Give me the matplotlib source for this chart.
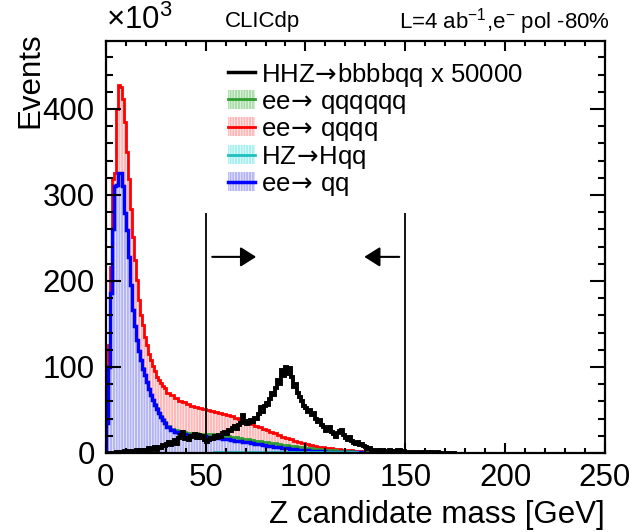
import numpy as np
import matplotlib.pyplot as plt
from matplotlib.patches import Patch
from matplotlib.lines import Line2D
from matplotlib.ticker import MultipleLocator

plt.rcParams['font.family'] = ['Liberation Sans', 'DejaVu Sans']
plt.rcParams['mathtext.fontset'] = 'custom'
plt.rcParams['mathtext.rm'] = 'Liberation Sans'
plt.rcParams['mathtext.sf'] = 'DejaVu Sans'
plt.rcParams['hatch.linewidth'] = 0.45

# Bin edges: 1 GeV bins up to 30 GeV, 2 GeV bins up to 150 GeV
edges = np.concatenate([np.arange(0, 30, 1), np.arange(30, 151, 2)])

# Background components, events in units of 10^3 (stacked bottom -> top)
hz_hqq = [0]*10 + [0.1]*10 + [0.2]*10 + [
    0.3, 0.3, 0.35, 0.35, 0.4, 0.4, 0.45, 0.45, 0.5, 0.5,
    0.55, 0.55, 0.6, 0.6, 0.65, 0.65, 0.7, 0.7, 0.75, 0.75,
    0.8, 0.8, 0.85, 0.85, 0.9, 0.9, 0.95, 0.95, 1.0, 1.0,
    1.05, 1.05, 1.1, 1.1, 1.15, 1.15, 1.2, 1.2, 1.2, 1.2,
    1.2, 1.15, 1.1, 1.0, 0.9, 0.8, 0.7, 0.6, 0.5, 0.4,
    0.3, 0.25, 0.2, 0.15, 0.1, 0.08, 0.05, 0.03, 0.02, 0]

ee_qq = [
    35, 100, 186, 260, 310, 312, 326, 325, 310, 279,
    259, 228, 195, 166, 147, 131, 118, 108, 98, 90,
    82, 74, 67, 61, 56, 51, 46, 42, 38, 35,
    29.7, 26.7, 24.6, 23.1, 22.1, 21.1, 20.5, 20, 19.5, 19,
    18.4, 17.9, 17.4, 16.4, 15.8, 15.3, 14.3, 13.8, 13.2, 12.2,
    11.7, 10.7, 9.6, 9.1, 8.1, 7.6, 7.0, 6.5, 6.0, 5.0,
    4.4, 3.9, 3.4, 2.9, 2.3, 1.8, 1.4, 1.0, 0.8, 0.6,
    0.5, 0.45, 0.4, 0.35, 0.3, 0.25, 0.2, 0.2, 0.15, 0.1,
    0.1, 0.05, 0.05, 0.05, 0.05, 0.02, 0.02, 0.01, 0.01, 0]

ee_6q = [0]*10 + [
    0.1, 0.1, 0.15, 0.15, 0.2, 0.2, 0.25, 0.25, 0.3, 0.3,
    0.35, 0.4, 0.45, 0.5, 0.55, 0.6, 0.65, 0.7, 0.8, 0.9,
    1.0, 1.2, 1.4, 1.6, 1.8, 2.0, 2.2, 2.4, 2.6, 2.8,
    3.0, 3.1, 3.2, 3.3, 3.4, 3.5, 3.6, 3.7, 3.8, 3.9,
    4.0, 4.0, 4.0, 4.0, 4.0, 4.0, 3.9, 3.8, 3.7, 3.6,
    3.5, 3.4, 3.3, 3.2, 3.1, 3.0, 2.8, 2.6, 2.4, 2.2,
    2.0, 1.8, 1.6, 1.4, 1.2, 1.0, 0.9, 0.8, 0.7, 0.6,
    0.5, 0.4, 0.3, 0.25, 0.2, 0.15, 0.1, 0.05, 0.05, 0]

ee_4q = [
    11, 26, 30, 58, 16, 88, 102, 100, 102, 106,
    91, 90, 88, 85, 77, 70, 60, 52, 50, 45,
    43, 41, 41, 39, 38, 37, 38, 38, 39, 39,
    39, 38.8, 37.6, 35.9, 34.7, 33.5, 31.8, 30.1, 29.4, 28.7,
    28, 27.4, 26.8, 26.7, 25.1, 24.5, 24.4, 22.8, 21.2, 21.1,
    19.5, 18.5, 17.5, 16, 15, 14.5, 13.1, 11.7, 10.3, 9.4,
    8.5, 7.6, 6.7, 5.8, 4.9, 4.5, 4.1, 3.7, 2.6, 2.5,
    2.3, 2.1, 1.9, 1.75, 1.6, 1.45, 1.2, 1.2, 1.0, 1.0,
    0.9, 0.8, 0.65, 0.55, 0.45, 0.35, 0.25, 0.15, 0.1, 0.05]

# Signal HHZ -> bbbbqq (x 50000), 1 GeV bins from 0 GeV
hhz = [
    0, 0, 0, 0, 0.5, 1, 1, 1.5, 1, 2,
    1.5, 2, 1.5, 2.5, 2, 3, 2.5, 3, 2, 3.5,
    4, 6, 3, 5, 7, 4, 7, 6, 9, 8,
    11, 13, 9, 12, 15, 11, 17, 21, 24, 16,
    18, 15, 20, 19, 22, 17, 21, 18, 20, 15,
    13, 15, 18, 16, 20, 17, 21, 19, 23, 24,
    22, 27, 25, 29, 31, 28, 33, 35, 44, 37,
    34, 35, 38, 36, 41, 39, 45, 53, 48, 55,
    58, 56, 63, 70, 67, 75, 85, 80, 97, 90,
    100, 92, 99, 88, 77, 80, 70, 65, 60, 55,
    52, 48, 50, 44, 46, 40, 36, 38, 33, 30,
    25, 28, 30, 24, 22, 19, 23, 25, 27, 21,
    17, 15, 19, 14, 12, 11, 13, 9, 10, 8,
    7, 5, 6, 4, 4, 3, 3, 2.5, 3, 2,
    2.5, 2, 3, 2, 1.5, 2, 3.5, 4, 2, 2.5,
    1.5, 1.5, 1, 1.2, 0.8, 1, 1.5, 0.8, 1, 0.5,
    0.8, 0.6, 0.4, 0.8, 0.5, 0.3, 0.6, 0.3, 0.2, 0.4,
    0.2, 0.3, 0.2, 0.1, 0.2, 0.1]
hhz_edges = np.arange(len(hhz) + 1)

cut_low, cut_high = 50, 150
cut_top = 279
arrow_y = 228

# stacked levels
lvl_hz = np.array(hz_hqq)
lvl_qq = lvl_hz + np.array(ee_qq)
lvl_6q = lvl_qq + np.array(ee_6q)
lvl_4q = lvl_6q + np.array(ee_4q)

fig = plt.figure(figsize=(6.3, 5.32), dpi=100)
ax = fig.add_axes([0.168, 0.1485, 0.792, 0.7745])

HATCH = '||||||'
layers = [
    (lvl_4q, '#ffb8b8', '#ff0000', 2.0),
    (lvl_6q, '#a8dca8', '#2e9e2e', 2.0),
    (lvl_qq, '#b4b4f4', '#0000ff', 2.5),
    (lvl_hz, '#a8f0f0', '#1fbfbf', 2.0),
]
for lvl, fc, lc, lw in layers:
    ax.stairs(lvl, edges, fill=True, facecolor=fc, edgecolor='white',
              hatch=HATCH, linewidth=0)
for lvl, fc, lc, lw in layers:
    ax.stairs(lvl, edges, color=lc, linewidth=lw)

ax.stairs(hhz, hhz_edges, color='black', linewidth=2.8, baseline=None)

# selection cuts
ax.vlines([cut_low, cut_high], 0, cut_top, color='black', lw=1.3)
arrow = dict(arrowstyle='-|>,head_length=0.95,head_width=0.6', color='black',
             lw=1.5, shrinkA=0, shrinkB=0, mutation_scale=10)
ax.annotate('', xy=(75.3, arrow_y), xytext=(53.3, arrow_y), arrowprops=arrow)
ax.annotate('', xy=(129.5, arrow_y), xytext=(147, arrow_y), arrowprops=arrow)

ax.set_xlim(0, 250)
ax.set_ylim(0, 479)
ax.xaxis.set_major_locator(MultipleLocator(50))
ax.xaxis.set_minor_locator(MultipleLocator(10))
ax.yaxis.set_major_locator(MultipleLocator(100))
ax.yaxis.set_minor_locator(MultipleLocator(20))
ax.tick_params(which='both', direction='in', top=True, right=True, width=1.5,
               labelsize=22.5)
ax.tick_params(axis='x', which='major', length=7.5, pad=7)
ax.tick_params(axis='x', which='minor', length=3.5)
ax.tick_params(axis='y', which='major', length=11, pad=8)
ax.tick_params(axis='y', which='minor', length=5)
for s in ax.spines.values():
    s.set_linewidth(1.6)

fig.text(0.960, 0.017, 'Z candidate mass [GeV]', ha='right', va='baseline',
         fontsize=22.5)
fig.text(0.048, 1 - 32/532, 'Events', rotation=90, ha='center', va='top',
         fontsize=22.5)
fig.text(0.168, 1 - 20/532, '×10$^{3}$', ha='left', va='center', fontsize=22.5)
fig.text(0.357, 1 - 22/532, 'CLICdp', ha='left', va='center', fontsize=16)
fig.text(0.968, 1 - 22/532, 'L=4 ab$^{-1}$,e$^{-}$ pol -80%', ha='right',
         va='center', fontsize=16)

handles = [
    Line2D([], [], color='black', lw=2.5),
    (Patch(facecolor='#a8dca8', edgecolor='white', hatch=HATCH, lw=0),
     Line2D([], [], color='#2e9e2e', lw=2)),
    (Patch(facecolor='#ffb8b8', edgecolor='white', hatch=HATCH, lw=0),
     Line2D([], [], color='#ff0000', lw=2)),
    (Patch(facecolor='#a8f0f0', edgecolor='white', hatch=HATCH, lw=0),
     Line2D([], [], color='#1fbfbf', lw=2)),
    (Patch(facecolor='#b4b4f4', edgecolor='white', hatch=HATCH, lw=0),
     Line2D([], [], color='#0000ff', lw=2.5)),
]
ARR = '$\\!\\mathsf{\\rightarrow}\\!$'
labels = ['HHZ' + ARR + 'bbbbqq x 50000', 'ee' + ARR + ' qqqqqq',
          'ee' + ARR + ' qqqq', 'HZ' + ARR + 'Hqq', 'ee' + ARR + ' qq']
fig.legend(handles, labels, loc='upper left', bbox_to_anchor=(0.362, 0.886),
           frameon=False, fontsize=18.5, handlelength=1.05, handleheight=0.75,
           handletextpad=0.25, labelspacing=0.04, borderpad=0,
           borderaxespad=0)

plt.savefig('out.png')
